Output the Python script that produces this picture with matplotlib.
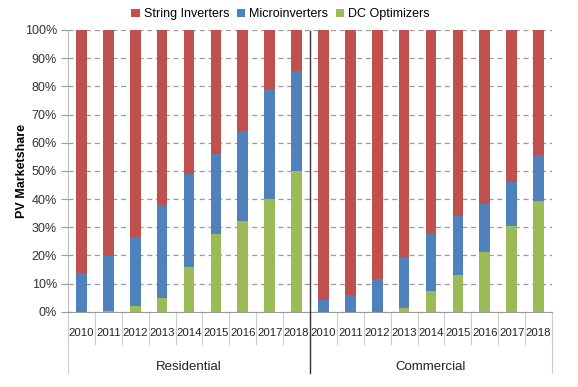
import matplotlib
matplotlib.use('Agg')
import matplotlib.pyplot as plt
import numpy as np

# values (percent of market)
years = ['2010', '2011', '2012', '2013', '2014', '2015', '2016', '2017', '2018']
groups = ['Residential', 'Commercial']
series = ['String Inverters', 'Microinverters', 'DC Optimizers']

res_dc = [0, 0.4, 2, 5, 16, 27.5, 32.3, 40, 49.8]
res_micro = [13.6, 19.5, 24.6, 33, 32.8, 28.6, 32, 39, 35.8]
com_dc = [0, 0, 0, 1.4, 7.3, 12.9, 21.3, 30.5, 39.2]
com_micro = [4.1, 5.9, 11.6, 18.1, 20.4, 21.2, 16.8, 15.7, 16.4]

colors = {'String Inverters': '#C0504D', 'Microinverters': '#4F81BD', 'DC Optimizers': '#9BBB59'}

plt.rcParams['font.family'] = ['Liberation Sans', 'DejaVu Sans']

dc = np.array(res_dc + com_dc)
micro = np.array(res_micro + com_micro)
string = 100 - dc - micro
labels = years + years
x = np.arange(len(labels))

fig = plt.figure(figsize=(5.78, 3.87), dpi=100)
ax = fig.add_axes([68 / 578, 1 - 311.7 / 387, (552 - 68) / 578, 281.7 / 387])

w = 0.4
ax.bar(x, dc, w, color=colors['DC Optimizers'], label='DC Optimizers', zorder=3)
ax.bar(x, micro, w, bottom=dc, color=colors['Microinverters'], label='Microinverters', zorder=3)
ax.bar(x, string, w, bottom=dc + micro, color=colors['String Inverters'], label='String Inverters', zorder=3)

ax.set_xlim(-0.5, len(labels) - 0.5)
ax.set_ylim(0, 100)
ax.set_yticks(np.arange(0, 101, 10))
ax.set_yticklabels(['%d%%' % v for v in range(0, 101, 10)], fontsize=9, color='#333333')
ax.yaxis.grid(True, linestyle=(0, (4, 3)), color='#9a9a9a', linewidth=0.9, zorder=0)
ax.tick_params(axis='y', length=5, color='#999999', pad=3)

ax.set_xticks(x)
ax.set_xticklabels(labels, fontsize=8.2, color='#222222')
ax.set_xticks(np.arange(-0.5, len(labels), 1), minor=True)
ax.tick_params(axis='x', which='major', length=0, pad=12)
ax.tick_params(axis='x', which='minor', length=24, color='#cccccc', width=0.8)

for s in ['top', 'right']:
    ax.spines[s].set_visible(False)
ax.spines['left'].set_color('#bbbbbb')
ax.spines['bottom'].set_color('#999999')

# group separators and labels below the year labels
yb = -(373 - 311.7) / 281.7
for xe in [-0.5, len(labels) - 0.5]:
    ax.plot([xe, xe], [0, yb], transform=ax.get_xaxis_transform(), color='#cccccc', lw=0.8, clip_on=False)
ax.plot([8.5, 8.5], [yb, 0.995], transform=ax.get_xaxis_transform(), color='#333333', lw=1.0, clip_on=False, zorder=4)
for i, g in enumerate(groups):
    ax.text(4 + 9 * i, -(367 - 311.7) / 281.7, g, transform=ax.get_xaxis_transform(),
            ha='center', va='center', fontsize=9.5, color='#222222')

ax.set_ylabel('PV Marketshare', fontsize=9, fontweight='bold')
ax.yaxis.set_label_coords((28 - 68) / 484, 0.5)

handles, lbls = ax.get_legend_handles_labels()
order = [2, 1, 0]
fig.legend([handles[i] for i in order], [lbls[i] for i in order], loc='center',
           bbox_to_anchor=(0.485, 0.963), ncol=3, frameon=False, fontsize=9,
           handlelength=0.7, handleheight=0.7, handletextpad=0.3, columnspacing=0.6)

fig.savefig('out.png', dpi=100)
